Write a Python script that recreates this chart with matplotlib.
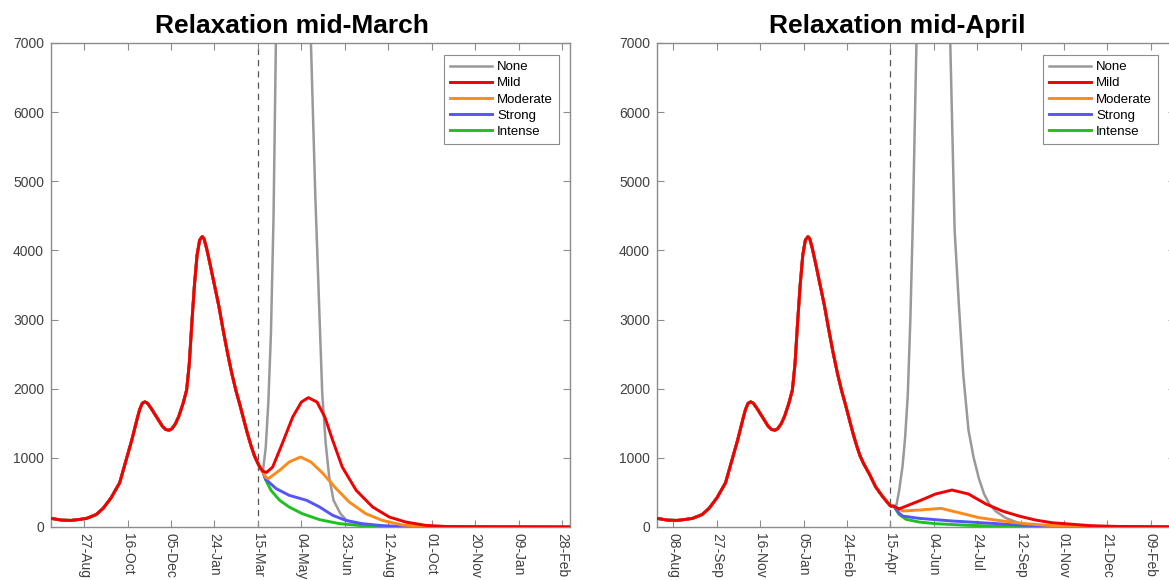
import numpy as np
import matplotlib
matplotlib.use("Agg")
import matplotlib.pyplot as plt
import matplotlib.dates as mdates

plt.rcParams['font.family'] = ['Liberation Sans', 'DejaVu Sans']

# ---- data ----
# shared history up to mid-March 2021
hist_dates = ['2020-07-20', '2020-08-01', '2020-08-12', '2020-08-22', '2020-08-30',
              '2020-09-10', '2020-09-18', '2020-09-27', '2020-10-07', '2020-10-14',
              '2020-10-21', '2020-10-27', '2020-10-30', '2020-11-02', '2020-11-05',
              '2020-11-08', '2020-11-12', '2020-11-18', '2020-11-25', '2020-11-29',
              '2020-12-03', '2020-12-06', '2020-12-10', '2020-12-14', '2020-12-19',
              '2020-12-23', '2020-12-26', '2020-12-29', '2021-01-01', '2021-01-04',
              '2021-01-07', '2021-01-10', '2021-01-12', '2021-01-15', '2021-01-19',
              '2021-01-24', '2021-01-29', '2021-02-03', '2021-02-08', '2021-02-13',
              '2021-02-18', '2021-02-22', '2021-02-27', '2021-03-03', '2021-03-07',
              '2021-03-11', '2021-03-15']
hist_vals = [125, 100, 95, 110, 125,
             180, 270, 420, 640, 950,
             1260, 1560, 1700, 1790, 1810,
             1790, 1720, 1600, 1460, 1410,
             1400, 1420, 1490, 1600, 1790,
             1980, 2350, 2950, 3500, 3930,
             4150, 4200, 4170, 4030, 3800,
             3500, 3200, 2850, 2520, 2220,
             1960, 1780, 1540, 1350, 1180,
             1030, 920]

# history continued until mid-April 2021
hist2_dates = ['2021-03-22', '2021-03-29', '2021-04-06', '2021-04-15']
hist2_vals = [760, 580, 440, 305]

scenarios = ['None', 'Mild', 'Moderate', 'Strong', 'Intense']
colors = ['#999999', '#f00000', '#ff8a1c', '#5555ff', '#20c020']

# relaxation mid-March
mar_none_d = ['2021-03-18', '2021-03-21', '2021-03-24', '2021-03-27', '2021-03-30',
              '2021-04-02', '2021-04-05', '2021-04-10', '2021-04-20', '2021-04-30',
              '2021-05-08', '2021-05-15', '2021-05-20', '2021-05-25', '2021-05-28',
              '2021-06-01', '2021-06-05', '2021-06-10', '2021-06-18', '2021-06-25',
              '2021-07-07', '2021-07-25', '2021-08-20', '2022-03-09']
mar_none_v = [840, 830, 1150, 1800, 2800,
              4500, 7300, 13000, 24000, 21000,
              12000, 7000, 4800, 3000, 1930,
              1206, 723, 386, 193, 96,
              48, 12, 2, 0]
mar_mild_d = ['2021-03-18', '2021-03-21', '2021-03-25', '2021-04-01', '2021-04-12',
              '2021-04-24', '2021-05-04', '2021-05-12', '2021-05-22', '2021-05-31',
              '2021-06-09', '2021-06-20', '2021-07-06', '2021-07-25', '2021-08-13',
              '2021-09-01', '2021-09-24', '2021-10-20', '2022-03-09']
mar_mild_v = [850, 805, 790, 868, 1206,
              1590, 1807, 1871, 1807, 1590,
              1254, 868, 531, 289, 145,
              72, 24, 6, 0]
mar_mod_d = ['2021-03-18', '2021-03-21', '2021-03-24', '2021-03-27', '2021-04-09',
             '2021-04-20', '2021-05-03', '2021-05-15', '2021-05-29', '2021-06-13',
             '2021-06-28', '2021-07-17', '2021-08-05', '2021-08-28', '2021-09-30',
             '2022-03-09']
mar_mod_v = [850, 790, 720, 700, 820,
             940, 1012, 940, 772, 555,
             362, 193, 96, 29, 5,
             0]
mar_str_d = ['2021-03-18', '2021-03-21', '2021-03-24', '2021-04-05', '2021-04-20',
             '2021-05-10', '2021-05-25', '2021-06-09', '2021-06-24', '2021-07-13',
             '2021-08-05', '2021-09-03', '2022-03-09']
mar_str_v = [850, 790, 690, 555, 458,
             386, 289, 169, 96, 48,
             20, 3, 0]
mar_int_d = ['2021-03-18', '2021-03-21', '2021-03-24', '2021-03-30', '2021-04-09',
             '2021-04-20', '2021-05-05', '2021-05-25', '2021-06-17', '2021-07-17',
             '2021-08-20', '2022-03-09']
mar_int_v = [850, 790, 680, 531, 386,
             289, 193, 106, 48, 14,
             2, 0]

# relaxation mid-April
apr_none_d = ['2021-04-19', '2021-04-22', '2021-04-25', '2021-04-29', '2021-05-02',
              '2021-05-05', '2021-05-08', '2021-05-11', '2021-05-15', '2021-05-20',
              '2021-06-03', '2021-06-15', '2021-06-23', '2021-06-28', '2021-07-03',
              '2021-07-08', '2021-07-14', '2021-07-20', '2021-07-26', '2021-08-01',
              '2021-08-07', '2021-08-14', '2021-08-26', '2021-09-10', '2021-10-01',
              '2021-10-25', '2022-03-09']
apr_none_v = [300, 320, 520, 880, 1300,
              1900, 3000, 4500, 7000, 11000,
              22000, 11500, 7000, 4300, 3200,
              2200, 1400, 1000, 700, 477,
              333, 231, 130, 58, 20,
              5, 0]
apr_mild_d = ['2021-04-19', '2021-04-25', '2021-05-18', '2021-06-06', '2021-06-25',
              '2021-07-14', '2021-08-03', '2021-08-22', '2021-09-10', '2021-09-29',
              '2021-10-18', '2021-11-07', '2021-12-01', '2022-01-01', '2022-03-09']
apr_mild_v = [300, 262, 376, 477, 535,
              477, 333, 231, 159, 101,
              62, 43, 20, 8, 2]
apr_mod_d = ['2021-04-19', '2021-04-29', '2021-05-18', '2021-06-12', '2021-07-03',
             '2021-07-26', '2021-08-22', '2021-09-17', '2021-10-18', '2021-11-20',
             '2022-03-09']
apr_mod_v = [300, 231, 245, 270, 207,
             135, 87, 48, 20, 6,
             0]
apr_str_d = ['2021-04-19', '2021-04-25', '2021-04-29', '2021-05-18', '2021-06-25',
             '2021-08-03', '2021-09-10', '2021-10-18', '2022-03-09']
apr_str_v = [300, 200, 159, 125, 87,
             58, 29, 10, 0]
apr_int_d = ['2021-04-19', '2021-04-25', '2021-05-03', '2021-05-18', '2021-06-06',
             '2021-07-14', '2021-08-22', '2021-10-01', '2022-03-09']
apr_int_v = [300, 183, 111, 72, 48,
             24, 10, 2, 0]

# x tick labels (every 50 days)
mar_ticks = ['2020-08-27', '2020-10-16', '2020-12-05', '2021-01-24', '2021-03-15',
             '2021-05-04', '2021-06-23', '2021-08-12', '2021-10-01', '2021-11-20',
             '2022-01-09', '2022-02-28']
apr_ticks = ['2020-08-08', '2020-09-27', '2020-11-16', '2021-01-05', '2021-02-24',
             '2021-04-15', '2021-06-04', '2021-07-24', '2021-09-12', '2021-11-01',
             '2021-12-21', '2022-02-09']

x_start, x_end = '2020-07-20', '2022-03-09'


def d(lst):
    return np.array(lst, dtype='datetime64[D]')


W, H = 1169, 580
fig = plt.figure(figsize=(W / 100, H / 100), dpi=100)

axL = fig.add_axes([51 / W, 1 - 527 / H, (570 - 51) / W, (527 - 43) / H])
axR = fig.add_axes([657 / W, 1 - 527 / H, (1175 - 657) / W, (527 - 43) / H])

panels = [
    (axL, hist_dates, hist_vals,
     [(mar_none_d, mar_none_v), (mar_mild_d, mar_mild_v), (mar_mod_d, mar_mod_v),
      (mar_str_d, mar_str_v), (mar_int_d, mar_int_v)],
     '2021-03-15', mar_ticks, 559),
    (axR, hist_dates + hist2_dates, hist_vals + hist2_vals,
     [(apr_none_d, apr_none_v), (apr_mild_d, apr_mild_v), (apr_mod_d, apr_mod_v),
      (apr_str_d, apr_str_v), (apr_int_d, apr_int_v)],
     '2021-04-15', apr_ticks, 1158),
]

zorders = [2, 6, 5, 4, 3]
for ax, hd, hv, scen, relax, ticks, leg_right in panels:
    for name, col, z, (sd, sv) in zip(scenarios, colors, zorders, scen):
        lw = 1.8 if name == 'None' else 2.1
        ax.plot(d(hd + sd), hv + sv, color=col, lw=lw, label=name, zorder=z,
                solid_joinstyle='round')
    ax.axvline(np.datetime64(relax), color='#555555', lw=0.9, ls=(0, (5, 4)), zorder=1)

    ax.set_xlim(np.datetime64(x_start), np.datetime64(x_end))
    ax.set_ylim(0, 7000)
    ax.set_yticks(range(0, 7001, 1000))
    ax.set_xticks(d(ticks))
    ax.xaxis.set_major_formatter(mdates.DateFormatter('%d-%b'))

    for s in ax.spines.values():
        s.set_color('#8c8c8c')
        s.set_linewidth(1.0)
    ax.tick_params(direction='in', top=True, right=True, length=5, width=0.8,
                   color='#8c8c8c', labelcolor='#404040', labelsize=10)
    ax.tick_params(axis='y', pad=5)
    ax.tick_params(axis='x', pad=4, labelrotation=-90)

    leg = ax.legend(loc='upper right', bbox_to_anchor=(leg_right / W, 1 - 55 / H),
                    bbox_transform=fig.transFigure, fontsize=9.5, fancybox=False,
                    framealpha=1, edgecolor='#8c8c8c', borderaxespad=0,
                    handlelength=3.2, handletextpad=0.4, labelspacing=0.3,
                    borderpad=0.45)
    leg.get_frame().set_linewidth(0.8)

fig.text(292 / W, 1 - 33 / H, 'Relaxation mid-March', ha='center', va='baseline',
         fontsize=19, fontweight='bold')
fig.text(897 / W, 1 - 33 / H, 'Relaxation mid-April', ha='center', va='baseline',
         fontsize=19, fontweight='bold')

fig.savefig('out.png', dpi=100)
